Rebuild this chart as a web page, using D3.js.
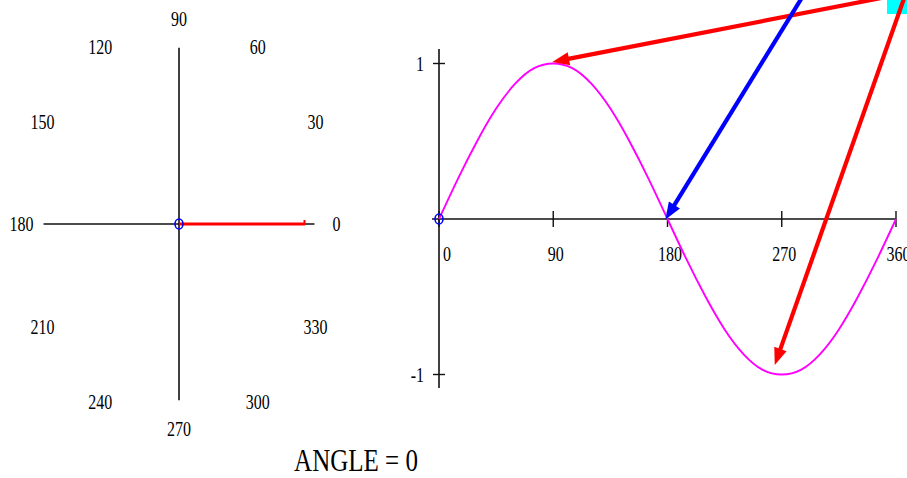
<!DOCTYPE html>
<html>
<head>
<meta charset="utf-8">
<script src="https://cdn.jsdelivr.net/npm/d3@7"></script>
<style>
  html, body { margin: 0; padding: 0; background: #fff; }
  svg { display: block; }
  text { font-family: "Liberation Serif", "Times New Roman", serif; fill: #000; }
</style>
</head>
<body>
<svg id="chart" width="907" height="478"></svg>
<script>
// Current angle of the rotating unit vector (degrees) and its length
const currentAngle = 0;
const vectorLength = 1;

// Angle labels around the polar plot
const polarLabels = [0, 30, 60, 90, 120, 150, 180, 210, 240, 270, 300, 330];

// Sine wave samples: angle (degrees) and sin(angle)
const waveAngles = [0, 15, 30, 45, 60, 75, 90, 105, 120, 135, 150, 165, 180,
                    195, 210, 225, 240, 255, 270, 285, 300, 315, 330, 345, 360];
const waveValues = [0, 0.26, 0.5, 0.71, 0.87, 0.97, 1, 0.97, 0.87, 0.71, 0.5, 0.26, 0,
                    -0.26, -0.5, -0.71, -0.87, -0.97, -1, -0.97, -0.87, -0.71, -0.5, -0.26, 0];

// Axis ticks of the wave plot
const waveXTicks = [0, 90, 180, 270, 360];
const waveYTicks = [1, -1];

// Points on the wave singled out by call-out arrows
const calloutAngles = [90, 180, 270];
const calloutValues = [1, 0, -1];
const calloutColors = ["#ff0000", "#0000ff", "#ff0000"];

const svg = d3.select("#chart");
const TEXT_STRETCH = 1.3;

function label(g, x, y, str, size, anchor) {
  g.append("text")
    .attr("transform", `translate(${x},${y}) scale(1,${TEXT_STRETCH})`)
    .attr("dy", "0.35em")
    .attr("text-anchor", anchor || "middle")
    .style("font-size", size + "px")
    .text(str);
}

/* ---------------- Polar plot ---------------- */
const cx = 179, cy = 224;
const px = d3.scaleLinear().domain([-1, 1]).range([cx - 126, cx + 126]);
const py = d3.scaleLinear().domain([-1, 1]).range([cy + 164, cy - 164]);
const polar = svg.append("g");

const axisExtent = 1.075;
polar.append("line")
  .attr("x1", px(-axisExtent)).attr("x2", px(axisExtent))
  .attr("y1", py(0)).attr("y2", py(0))
  .attr("stroke", "#111").attr("stroke-width", 1.6);
polar.append("line")
  .attr("x1", px(0)).attr("x2", px(0))
  .attr("y1", py(axisExtent)).attr("y2", py(-axisExtent))
  .attr("stroke", "#111").attr("stroke-width", 1.6);

const labelRadius = 1.25;
polarLabels.forEach(a => {
  const r = a * Math.PI / 180;
  label(polar, px(labelRadius * Math.cos(r)), py(labelRadius * Math.sin(r)), String(a), 16);
});

// the rotating vector
const rad = currentAngle * Math.PI / 180;
const vx = px(vectorLength * Math.cos(rad)), vy = py(vectorLength * Math.sin(rad));
polar.append("line")
  .attr("x1", px(0)).attr("y1", py(0))
  .attr("x2", vx).attr("y2", vy)
  .attr("stroke", "#ff0000").attr("stroke-width", 3.2);
polar.append("line")
  .attr("x1", vx - 0.5).attr("x2", vx - 0.5)
  .attr("y1", vy + 1).attr("y2", vy - 4)
  .attr("stroke", "#ff0000").attr("stroke-width", 2);
polar.append("ellipse")
  .attr("cx", px(0)).attr("cy", py(0)).attr("rx", 4).attr("ry", 5)
  .attr("fill", "none").attr("stroke", "#0000ff").attr("stroke-width", 1.6);

/* ---------------- Sine wave plot ---------------- */
const wx = d3.scaleLinear().domain([0, 360]).range([439, 896]);
const wy = d3.scaleLinear().domain([-1, 1]).range([374.5, 63.5]);
const wave = svg.append("g");

wave.append("line")
  .attr("x1", wx(-5.5)).attr("x2", wx(360))
  .attr("y1", wy(0)).attr("y2", wy(0))
  .attr("stroke", "#111").attr("stroke-width", 1.6);
wave.append("line")
  .attr("x1", wx(0)).attr("x2", wx(0))
  .attr("y1", wy(1.093)).attr("y2", wy(-1.087))
  .attr("stroke", "#111").attr("stroke-width", 1.6);

waveXTicks.forEach(t => {
  wave.append("line")
    .attr("x1", wx(t)).attr("x2", wx(t))
    .attr("y1", wy(0) - 8).attr("y2", wy(0) + 8)
    .attr("stroke", "#111").attr("stroke-width", 1.4);
  if (t === 0) label(wave, wx(t) + 4, 254, String(t), 16, "start");
  else label(wave, wx(t) + 2.5, 254, String(t), 16);
});
waveYTicks.forEach(t => {
  wave.append("line")
    .attr("x1", wx(0) - 6).attr("x2", wx(0) + 6)
    .attr("y1", wy(t)).attr("y2", wy(t))
    .attr("stroke", "#111").attr("stroke-width", 1.4);
  label(wave, wx(0) - 15, wy(t), String(t), 16, "end");
});

const waveData = waveAngles.map((a, i) => [a, waveValues[i]]);
wave.append("path")
  .datum(waveData)
  .attr("fill", "none")
  .attr("stroke", "#ff00ff")
  .attr("stroke-width", 1.9)
  .attr("d", d3.line().x(d => wx(d[0])).y(d => wy(d[1])).curve(d3.curveNatural));

// marker at the current angle on the wave
wave.append("ellipse")
  .attr("cx", wx(currentAngle)).attr("cy", wy(Math.sin(rad) * vectorLength))
  .attr("rx", 4).attr("ry", 5)
  .attr("fill", "none").attr("stroke", "#0000ff").attr("stroke-width", 1.6);

/* ---------------- Call-out arrows ---------------- */
// tails start above the top edge; tips sit just short of the marked point
const calloutSources = [[876, -1], [800.5, 0], [903.5, 0]];
const calloutTipOffsets = [[-1, -1.5], [-2, 0.5], [-7, -9.5]];
svg.append("rect")
  .attr("x", 887).attr("y", 0).attr("width", 20).attr("height", 14)
  .attr("fill", "#00ffff");

calloutAngles.forEach((a, i) => {
  const [sx, sy] = calloutSources[i];
  const tx = wx(a) + calloutTipOffsets[i][0];
  const ty = wy(calloutValues[i]) + calloutTipOffsets[i][1];
  const dx = tx - sx, dy = ty - sy;
  const len = Math.hypot(dx, dy);
  const ux = dx / len, uy = dy / len;
  const headLen = 17, headHalf = 6.5;
  const bx = tx - ux * headLen, by = ty - uy * headLen;
  svg.append("line")
    .attr("x1", sx - ux * 10).attr("y1", sy - uy * 10)
    .attr("x2", bx + ux * 2).attr("y2", by + uy * 2)
    .attr("stroke", calloutColors[i]).attr("stroke-width", 4.2);
  svg.append("polygon")
    .attr("points", [
      [tx, ty],
      [bx - uy * headHalf, by + ux * headHalf],
      [bx + uy * headHalf, by - ux * headHalf]
    ].map(p => p.join(",")).join(" "))
    .attr("fill", calloutColors[i]);
});

/* ---------------- Caption ---------------- */
const caption = svg.append("g");
caption.append("text")
  .attr("transform", `translate(356,471) scale(1,${TEXT_STRETCH})`)
  .attr("text-anchor", "middle")
  .style("font-size", "25px")
  .text("ANGLE = " + currentAngle);
</script>
</body>
</html>
